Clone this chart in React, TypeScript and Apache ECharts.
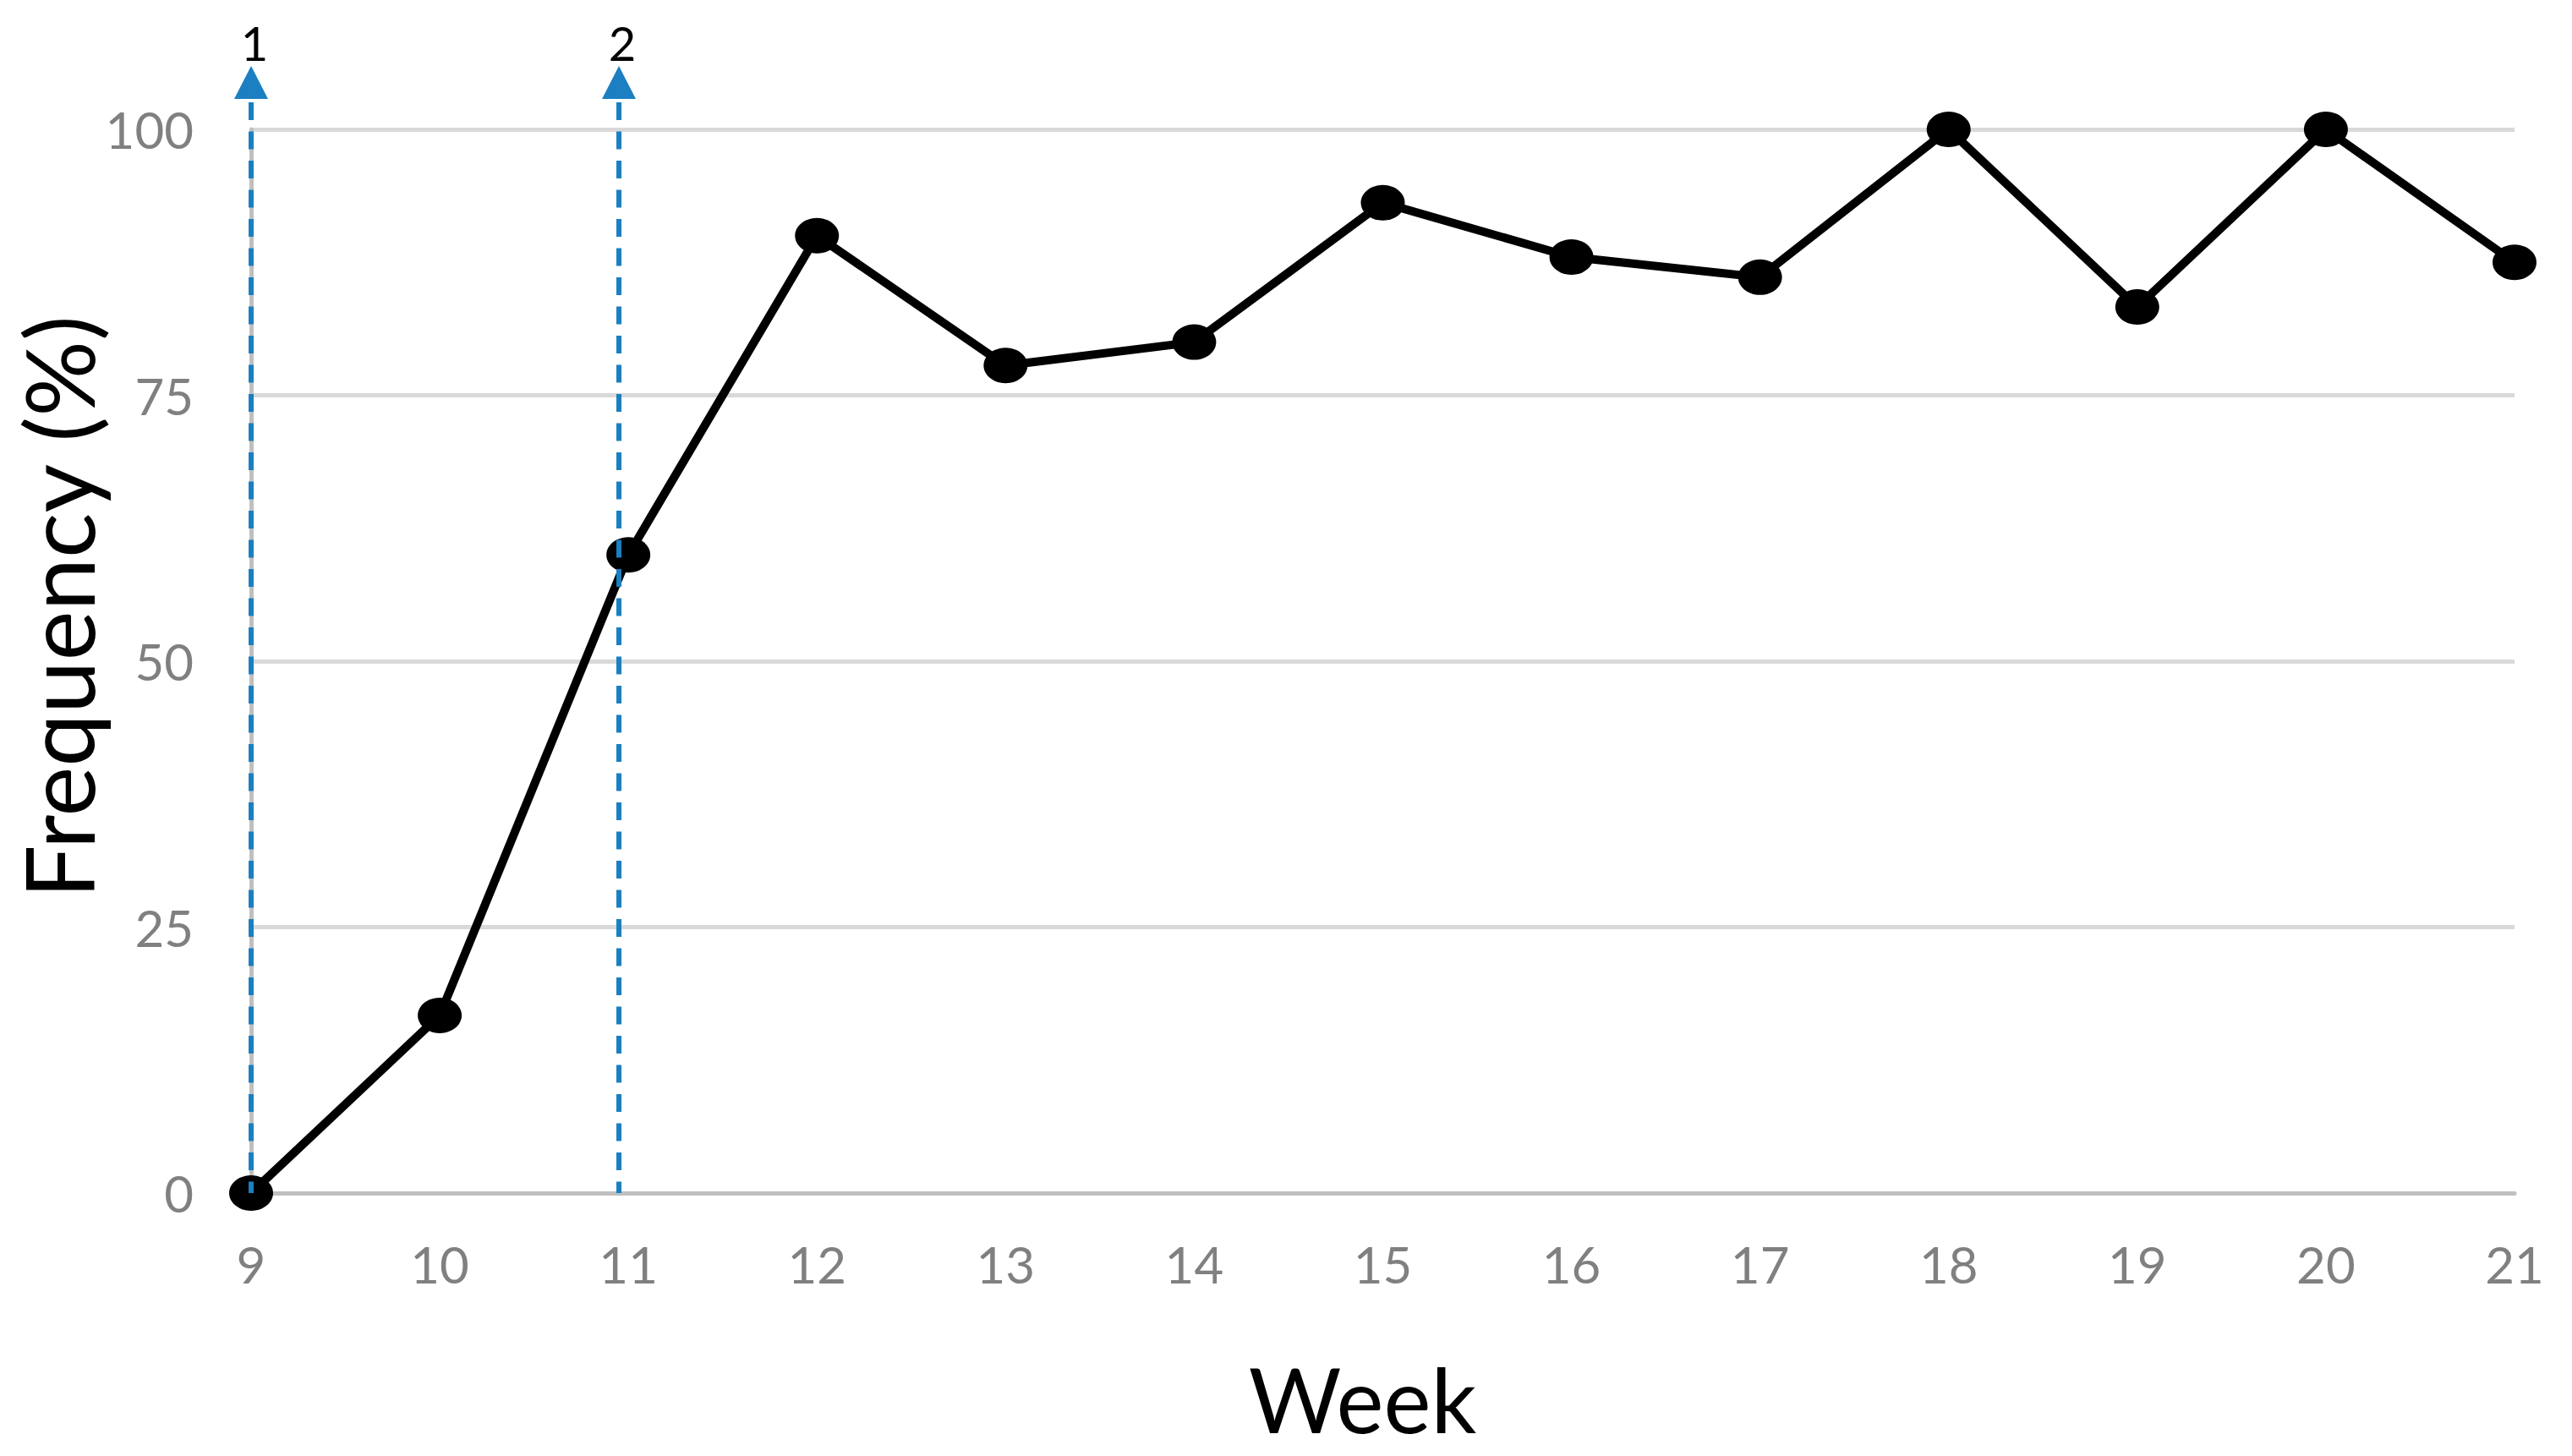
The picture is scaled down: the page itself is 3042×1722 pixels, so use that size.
import React, { useEffect, useRef } from "react";
import * as echarts from "echarts";

const weeks = [9, 10, 11, 12, 13, 14, 15, 16, 17, 18, 19, 20, 21];
const frequency = [0, 16.7, 60, 90, 77.8, 80, 93.1, 88, 86.1, 100, 83.3, 100, 87.5];
const markerWeeks = [9, 10.95];
const markerLabels = ["1", "2"];
const yTitle = "Frequency (%)";
const xTitle = "Week";

const FONT = "Lato";

export default function App() {
  const ref = useRef<HTMLDivElement>(null);
  useEffect(() => {
    if (!ref.current) return;
    const chart = echarts.init(ref.current, undefined, { renderer: "svg" });
    const lineData = weeks.map((w, i) => [w, frequency[i]]);
    const markerData = markerWeeks.map((w) => [w, 0]);
    chart.setOption({
      animation: false,
      backgroundColor: "#ffffff",
      grid: {
        left: 297,
        right: 68,
        top: 153,
        bottom: 311,
        containLabel: false,
        outerBoundsMode: "none",
      },
      graphic: [
        {
          type: "text",
          x: 68,
          y: 718,
          rotation: Math.PI / 2,
          style: {
            text: yTitle,
            fill: "#000000",
            fontFamily: FONT,
            fontSize: 112,
            align: "center",
            verticalAlign: "middle",
          },
        },
      ],
      xAxis: {
        type: "value",
        min: 9,
        max: 21,
        interval: 1,
        name: xTitle,
        nameLocation: "middle",
        nameGap: 190,
        nameTextStyle: {
          fontFamily: FONT,
          fontSize: 106,
          color: "#000000",
          padding: [0, 48, 0, 0],
        },
        axisLine: { show: true, lineStyle: { color: "#bfbfbf", width: 5 } },
        axisTick: { show: false },
        splitLine: { show: false },
        axisLabel: { fontFamily: FONT, fontSize: 60, color: "#808080", margin: 54 },
      },
      yAxis: {
        type: "value",
        min: 0,
        max: 100,
        interval: 25,
        axisLine: { show: true, lineStyle: { color: "#bfbfbf", width: 5 } },
        axisTick: { show: false },
        splitLine: { show: true, lineStyle: { color: "#d9d9d9", width: 5 } },
        axisLabel: { fontFamily: FONT, fontSize: 60, color: "#808080", margin: 68 },
      },
      series: [
        {
          type: "line",
          data: lineData,
          z: 2,
          symbol: "circle",
          symbolSize: [52, 42],
          showSymbol: true,
          lineStyle: { color: "#000000", width: 10 },
          itemStyle: { color: "#000000" },
        },
        {
          type: "custom",
          z: 5,
          clip: false,
          data: markerData,
          renderItem: (params: any, api: any) => {
            const x = api.value(0);
            const idx = params.dataIndex;
            const p0 = api.coord([x, 0]);
            const p100 = api.coord([x, 100]);
            const tipY = p100[1] - 75;
            const baseY = tipY + 39;
            return {
              type: "group",
              children: [
                {
                  type: "line",
                  shape: { x1: p0[0], y1: baseY + 4, x2: p0[0], y2: p0[1] },
                  style: { stroke: "#1b7fc1", lineWidth: 6, lineDash: [21, 13.5] },
                },
                {
                  type: "polygon",
                  shape: {
                    points: [
                      [p0[0], tipY],
                      [p0[0] - 20, baseY],
                      [p0[0] + 20, baseY],
                    ],
                  },
                  style: { fill: "#1b7fc1" },
                },
                {
                  type: "text",
                  x: p0[0] + 4,
                  y: tipY - 28,
                  style: {
                    text: markerLabels[idx],
                    fill: "#000000",
                    fontFamily: FONT,
                    fontSize: 56,
                    align: "center",
                    verticalAlign: "middle",
                  },
                },
              ],
            };
          },
        },
      ],
    });
    return () => chart.dispose();
  }, []);
  return (
    <div
      ref={ref}
      style={{ position: "fixed", left: 0, top: 0, width: 3042, height: 1722 }}
    />
  );
}
